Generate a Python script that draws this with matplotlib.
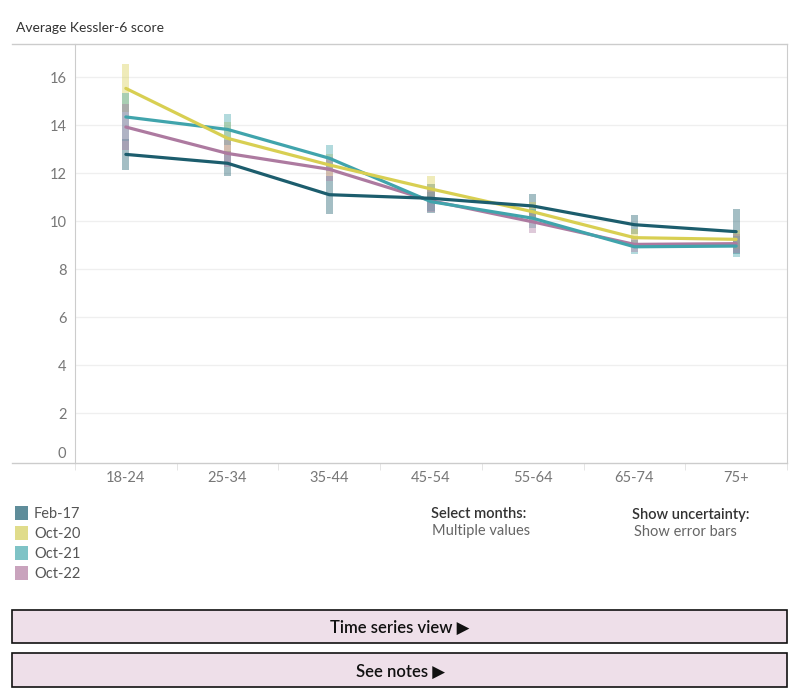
import matplotlib
matplotlib.use('Agg')
import matplotlib.pyplot as plt
from matplotlib.patches import Rectangle
import numpy as np

# data
age_groups = ['18-24', '25-34', '35-44', '45-54', '55-64', '65-74', '75+']
months = ['Feb-17', 'Oct-20', 'Oct-21', 'Oct-22']

feb17 = [12.79, 12.42, 11.11, 10.96, 10.64, 9.86, 9.57]
oct20 = [15.54, 13.46, 12.35, 11.35, 10.40, 9.32, 9.25]
oct21 = [14.35, 13.83, 12.63, 10.82, 10.13, 8.94, 8.97]
oct22 = [13.93, 12.83, 12.17, 10.86, 9.98, 9.04, 9.07]

feb17_err = [0.64, 0.52, 0.79, 0.60, 0.50, 0.40, 0.94]
oct20_err = [1.00, 0.70, 0.45, 0.54, 0.40, 0.35, 0.40]
oct21_err = [1.00, 0.64, 0.55, 0.40, 0.40, 0.30, 0.44]
oct22_err = [0.96, 0.55, 0.50, 0.45, 0.45, 0.30, 0.40]

yticks = [0, 2, 4, 6, 8, 10, 12, 14, 16]

line_colors = ['#1c5d6d', '#d8cf52', '#40a4ac', '#ad7aa0']
legend_colors = ['#5f8d9a', '#e0dc8b', '#7fc3c6', '#c9a3bd']

plt.rcParams['font.family'] = ['Lato', 'DejaVu Sans']

W, H = 800, 700
fig = plt.figure(figsize=(W / 100, H / 100), dpi=100)


def fx(px):
    return px / W


def fy(py):
    return 1 - py / H


ax = fig.add_axes([fx(75), fy(463), fx(787 - 75), fy(44) - fy(463)])
x = np.arange(len(age_groups))

series = [feb17, oct20, oct21, oct22]
errs = [feb17_err, oct20_err, oct21_err, oct22_err]

# error bars drawn as translucent bands
for vals, err, c in zip(series, errs, line_colors):
    v = np.array(vals)
    e = np.array(err)
    ax.bar(x, 2 * e, bottom=v - e, width=0.07, color=c, alpha=0.4,
           linewidth=0, zorder=2)

for i in [3, 2, 1, 0]:
    ax.plot(x, series[i], color=line_colors[i], lw=2.3, zorder=3,
            solid_capstyle='round')

ax.set_xlim(-0.5, len(age_groups) - 0.5)
ax.set_ylim(-0.07, 17.39)
for t in yticks[1:]:
    ax.axhline(t, color='#efefef', lw=0.9, zorder=0)

ax.set_yticks([])
ax.set_xticks(x)
ax.set_xticklabels(age_groups, color='#777777', fontsize=10.5)
ax.tick_params(axis='x', length=0, pad=6)
ax.set_xticks(np.arange(len(age_groups) + 1) - 0.5, minor=True)
ax.tick_params(axis='x', which='minor', length=5, color='#e0e0e0')

for t in yticks:
    ax.text(-0.012, t, str(t), transform=ax.get_yaxis_transform(),
            ha='right', va='bottom' if t == 0 else 'center_baseline',
            fontsize=10.5, color='#777777')

for side in ['top', 'bottom']:
    ax.spines[side].set_visible(False)
ax.spines['left'].set_color('#cccccc')
ax.spines['right'].set_color('#cccccc')

# frame lines running into the label area
fig.add_artist(plt.Line2D([fx(12), fx(787)], [fy(44), fy(44)], color='#cccccc', lw=1))
fig.add_artist(plt.Line2D([fx(12), fx(787)], [fy(463), fy(463)], color='#cccccc', lw=1))

fig.text(fx(16), fy(27), 'Average Kessler-6 score', fontsize=10,
         color='#333333', va='center_baseline')

# legend
for k, (m, c) in enumerate(zip(months, legend_colors)):
    yc = 513 + 20 * k
    fig.add_artist(Rectangle((fx(15), fy(yc + 7)), fx(13), fy(yc - 7) - fy(yc + 7),
                             color=c, lw=0))
    fig.text(fx(34), fy(yc), m, fontsize=10.5, color='#555555', va='center_baseline')

fig.text(fx(431), fy(513), 'Select months:', fontsize=10.5, color='#333333',
         va='center_baseline', fontweight='semibold')
fig.text(fx(432), fy(530), 'Multiple values', fontsize=10.5, color='#666666',
         va='center_baseline')
fig.text(fx(632), fy(513), 'Show uncertainty:', fontsize=10.5, color='#333333',
         va='center_baseline', fontweight='semibold')
fig.text(fx(634), fy(530), 'Show error bars', fontsize=10.5, color='#666666',
         va='center_baseline')

# buttons
for top, bottom, label in [(610, 643, 'Time series view \u25B6'), (653, 687, 'See notes \u25B6')]:
    fig.add_artist(Rectangle((fx(12), fy(bottom)), fx(775), fy(top) - fy(bottom),
                             facecolor='#eedfe9', edgecolor='#111111', lw=1.2))
    fig.text(0.5, fy((top + bottom) / 2), label, fontsize=12, color='#111111',
             ha='center', va='center_baseline', fontweight='semibold')

fig.savefig('out.png', dpi=100)
